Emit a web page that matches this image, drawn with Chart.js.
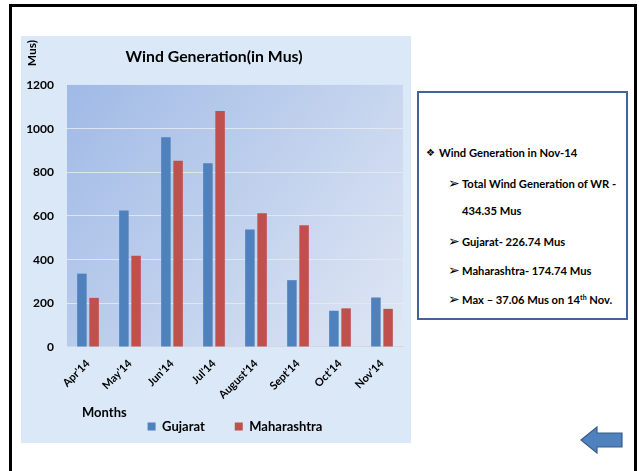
<!DOCTYPE html>
<html>
<head>
<meta charset="utf-8">
<script src="https://cdn.jsdelivr.net/npm/chart.js@4"></script>
<style>
  html, body { margin: 0; padding: 0; background: #ffffff; width: 639px; height: 471px; overflow: hidden; }
  body { position: relative; font-family: Lato, "Open Sans", "DejaVu Sans", sans-serif; }
  #frame { position: absolute; left: 9px; top: 4px; width: 622px; height: 500px;
           border: 3px solid #000; border-bottom: none; }
  #chartBox { position: absolute; left: 21px; top: 36px; width: 390px; height: 407px;
              background: #dae8f7; }
  #chartBox canvas { position: absolute; left: 0; top: 0; }
  #notes { position: absolute; left: 417px; top: 91px; width: 207px; height: 225px;
           border: 2px solid #41659a; background: #ffffff; }
  .ln { position: absolute; height: 14px; width: 200px; }
  .ln span { position: absolute; top: 0; white-space: nowrap; line-height: 14px; color: #000; }
  .tx { font-weight: 700; font-size: 11.2px; }
  .bl { font-family: "DejaVu Sans", sans-serif; font-size: 10px; }
  .ar { font-family: "DejaVu Sans", sans-serif; font-size: 14px; top: -1px !important; }
  sup { font-size: 7px; line-height: 0; vertical-align: 4px; }
  #arrow { position: absolute; left: 578px; top: 424px; }
</style>
</head>
<body>
<div id="frame"></div>
<div id="chartBox"><canvas id="chart" width="390" height="407"></canvas></div>

<div id="notes">
  <div class="ln" style="top:53px;"><span class="bl" style="left:7px;">❖</span><span class="tx" style="left:20px;">Wind Generation in Nov-14</span></div>
  <div class="ln" style="top:84px;"><span class="ar" style="left:29px;">➢</span><span class="tx" style="left:43px;">Total Wind Generation of WR -</span></div>
  <div class="ln" style="top:111px;"><span class="tx" style="left:43px;">434.35 Mus</span></div>
  <div class="ln" style="top:142px;"><span class="ar" style="left:29px;">➢</span><span class="tx" style="left:43px;">Gujarat- 226.74 Mus</span></div>
  <div class="ln" style="top:171px;"><span class="ar" style="left:29px;">➢</span><span class="tx" style="left:43px;">Maharashtra- 174.74 Mus</span></div>
  <div class="ln" style="top:200px;"><span class="ar" style="left:29px;">➢</span><span class="tx" style="left:43px;">Max – 37.06 Mus on 14<sup>th</sup> Nov.</span></div>
</div>

<svg id="arrow" width="48" height="32" viewBox="0 0 48 32">
  <polygon points="3,16 19,3 19,9 44,9 44,23 19,23 19,29" fill="#4f81bd" stroke="#385d8a" stroke-width="1.2"/>
</svg>

<script>
// Monthly wind generation (MUs), Apr'14 – Nov'14
const months = ["Apr'14", "May'14", "Jun'14", "Jul'14", "August'14", "Sept'14", "Oct'14", "Nov'14"];
const gujarat = [336, 625, 960, 841, 538, 306, 166, 226.74];
const maharashtra = [225, 418, 853, 1081, 613, 557, 177, 174.74];
const yTickValues = [0, 200, 400, 600, 800, 1000, 1200];

const FONT = "Lato, 'Open Sans', 'DejaVu Sans', sans-serif";

// Gradient fill behind the plot area, plus the small axis captions
const decorations = {
  id: 'decorations',
  afterLayout(chart) {
    // let the rotated month labels run below the axis box without being clipped
    chart.scales.x.bottom = chart.height;
  },
  beforeDraw(chart) {
    const { ctx, chartArea: a } = chart;
    const g = ctx.createLinearGradient(a.left, a.top, a.right, a.bottom);
    g.addColorStop(0, '#a0bae6');
    g.addColorStop(1, '#e0e7f4');
    ctx.save();
    ctx.fillStyle = g;
    ctx.fillRect(a.left, a.top, a.right - a.left, a.bottom - a.top);
    ctx.restore();
  },
  afterDraw(chart) {
    const { ctx, chartArea: a } = chart;
    ctx.save();
    ctx.fillStyle = '#000';
    // x-axis caption
    ctx.font = `700 13px ${FONT}`;
    ctx.textAlign = 'left';
    ctx.textBaseline = 'middle';
    ctx.fillText('Months', a.left + 15, a.bottom + 66);
    // y-axis caption (rotated)
    ctx.translate(11, 4);
    ctx.rotate(-Math.PI / 2);
    ctx.font = `700 12px ${FONT}`;
    ctx.textAlign = 'right';
    ctx.textBaseline = 'middle';
    ctx.fillText('Mus)', 0, 0);
    ctx.restore();
  }
};

new Chart(document.getElementById('chart'), {
  type: 'bar',
  data: {
    labels: months,
    datasets: [
      { label: 'Gujarat', data: gujarat, backgroundColor: '#4f81bd', borderWidth: 0 },
      { label: 'Maharashtra', data: maharashtra, backgroundColor: '#c0504d', borderWidth: 0 }
    ]
  },
  plugins: [decorations],
  options: {
    responsive: false,
    animation: false,
    devicePixelRatio: 1,
    layout: { padding: { left: 4, right: 8, top: 0, bottom: 0 } },
    datasets: { bar: { categoryPercentage: 0.58, barPercentage: 0.78 } },
    scales: {
      x: {
        grid: { display: false },
        border: { display: true, color: '#d4d8de', width: 1 },
        ticks: {
          color: '#000',
          font: { family: FONT, size: 11, weight: '700' },
          minRotation: 45, maxRotation: 45, padding: 2
        },
        afterFit(scale) { scale.height = 43; }
      },
      y: {
        min: 0, max: 1200,
        afterBuildTicks(scale) { scale.ticks = yTickValues.map(v => ({ value: v })); },
        grid: {
          drawTicks: false,
          color: ctx => (ctx.tick && ctx.tick.value === 1200) ? 'rgba(0,0,0,0)' : 'rgba(232,234,238,0.85)',
          lineWidth: 1
        },
        border: { display: false },
        ticks: {
          color: '#000',
          font: { family: FONT, size: 12, weight: '700' },
          padding: 13,
          callback: v => String(v)
        },
        afterFit(scale) { scale.width = 42; }
      }
    },
    plugins: {
      title: {
        display: true,
        text: 'Wind Generation(in Mus)',
        color: '#000',
        font: { family: FONT, size: 15.8, weight: '700' },
        padding: { top: 11, bottom: 19 }
      },
      legend: {
        position: 'bottom',
        fullSize: false,
        labels: {
          color: '#000',
          boxWidth: 8, boxHeight: 8,
          padding: 30,
          font: { family: FONT, size: 13, weight: '700' }
        }
      },
      tooltip: { enabled: false }
    }
  }
});
</script>
</body>
</html>
